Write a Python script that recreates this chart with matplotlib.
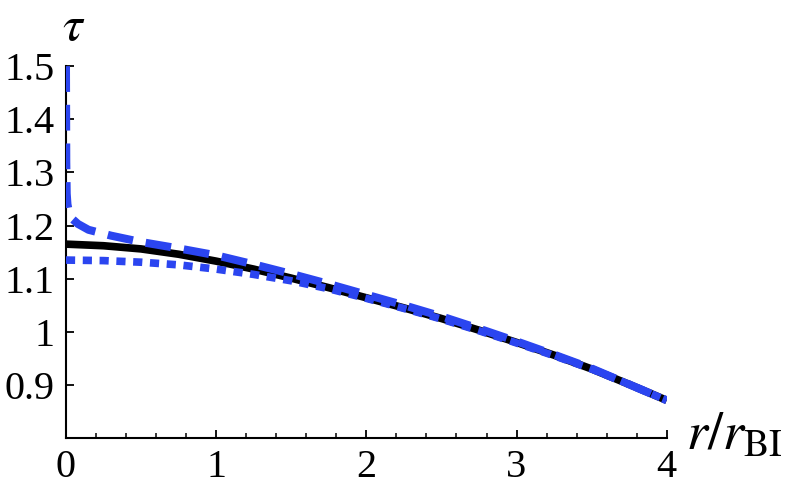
import matplotlib
matplotlib.use("Agg")
from matplotlib import pyplot as plt
from matplotlib.ticker import MultipleLocator

# data
x_solid = [0, 0.25, 0.5, 0.75, 1.0, 1.25, 1.5, 1.75, 2.0, 2.25, 2.5, 2.75, 3.0, 3.25, 3.5, 3.75, 4.0]
tau_solid = [1.165, 1.162, 1.156, 1.146, 1.133, 1.118, 1.101, 1.083, 1.064, 1.045, 1.025, 1.003,
             0.980, 0.956, 0.930, 0.901, 0.871]

x_dashed = [0, 0.002, 0.005, 0.01, 0.02, 0.04, 0.08, 0.15, 0.3, 0.5, 0.75, 1.0, 1.25, 1.5, 1.75,
            2.0, 2.25, 2.5, 2.75, 3.0, 3.25, 3.5, 3.75, 4.0]
tau_dashed = [1.5, 1.32, 1.26, 1.24, 1.225, 1.213, 1.203, 1.192, 1.181, 1.169, 1.157, 1.144, 1.127,
              1.109, 1.090, 1.070, 1.050, 1.029, 1.006, 0.982, 0.957, 0.931, 0.901, 0.871]

x_dotted = [0, 0.25, 0.5, 0.75, 1.0, 1.25, 1.5, 1.75, 2.0, 2.25, 2.5, 2.75, 3.0, 3.25, 3.5, 3.75, 4.0]
tau_dotted = [1.135, 1.134, 1.131, 1.126, 1.118, 1.108, 1.096, 1.081, 1.063, 1.044, 1.024, 1.002,
              0.979, 0.955, 0.930, 0.901, 0.871]

y_ticks = [0.9, 1.0, 1.1, 1.2, 1.3, 1.4, 1.5]
y_labels = ["0.9", "1", "1.1", "1.2", "1.3", "1.4", "1.5"]
x_ticks = [0, 1, 2, 3, 4]

blue = "#2b45f0"
plt.rcParams["font.family"] = ["Liberation Serif", "DejaVu Serif"]
plt.rcParams["mathtext.fontset"] = "stix"

fig = plt.figure(figsize=(7.9, 4.9), dpi=100)
ax = fig.add_axes([0.0835, 0.106, 0.7605, 0.759])

ax.plot(x_solid, tau_solid, color="black", lw=5.5, solid_capstyle="butt", zorder=2)
ax.plot(x_dashed, tau_dashed, color=blue, lw=5.8, dashes=(3.2, 1.6), zorder=3)
ax.plot(x_dotted, tau_dotted, color=blue, lw=5.5, dashes=(1.2, 1.0), zorder=3)

ax.set_xlim(0, 4)
ax.set_ylim(0.8, 1.5)
ax.set_xticks(x_ticks)
ax.xaxis.set_minor_locator(MultipleLocator(0.2))
ax.set_yticks(y_ticks)
ax.set_yticklabels(y_labels)

for s in ["top", "right"]:
    ax.spines[s].set_visible(False)
for s in ["left", "bottom"]:
    ax.spines[s].set_linewidth(1.5)

ax.tick_params(which="major", direction="in", length=6, width=1.3, labelsize=29, pad=8)
ax.tick_params(which="minor", direction="in", length=3.5, width=1.1)

fig.text(0.093, 0.99, r"$\tau$", fontsize=36, ha="center", va="top")
fig.text(0.868, 0.11, r"$r/r_{\mathrm{BI}}$", fontsize=39, ha="left", va="center")

fig.savefig("out.png", dpi=100)
